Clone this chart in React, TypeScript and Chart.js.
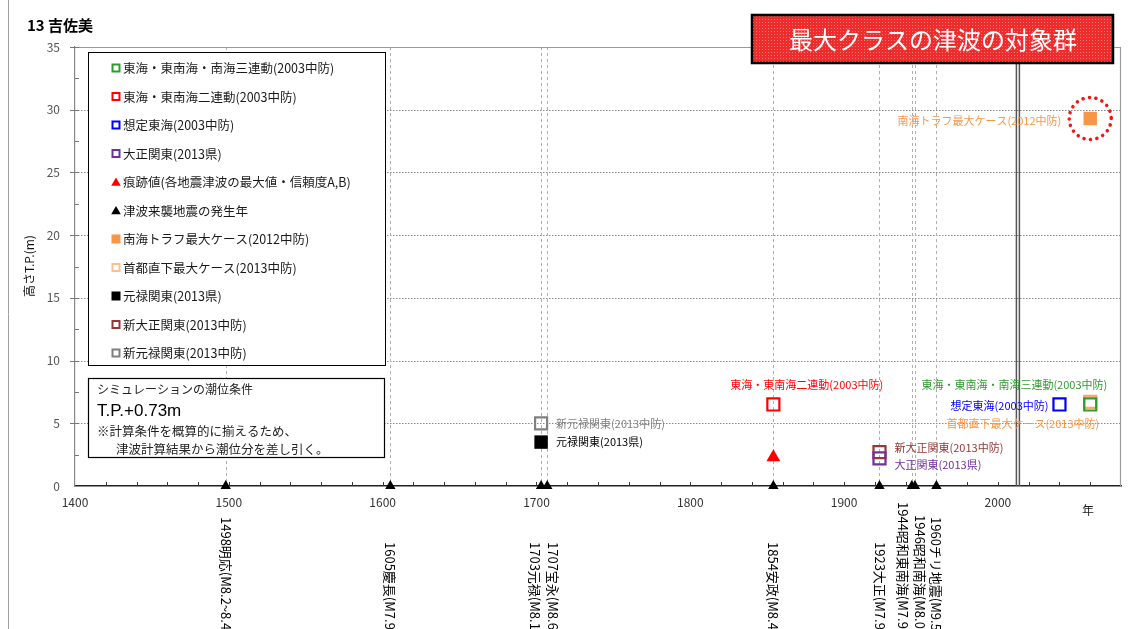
import React, { useEffect, useRef } from 'react';
import { Chart, registerables } from 'chart.js';

Chart.register(...registerables);

const FONT = "'Noto Sans CJK JP', 'Noto Sans', sans-serif";

// ---------- text ----------
const chartTitle = '13 吉佐美';
const yAxisTitle = '高さT.P.(m)';
const xAxisTitle = '年';
const bannerText = '最大クラスの津波の対象群';
const xTickLabels = ['1400', '1500', '1600', '1700', '1800', '1900', '2000'];
const yTickLabels = ['0', '5', '10', '15', '20', '25', '30', '35'];
const tideNoteTitle = 'シミュレーションの潮位条件';
const tideNoteValue = 'T.P.+0.73m';
const tideNoteLine1 = '※計算条件を概算的に揃えるため、';
const tideNoteLine2 = '津波計算結果から潮位分を差し引く。';

// ---------- events (earthquakes causing tsunami) ----------
const eventYears = [1498, 1605, 1703, 1707, 1854, 1923, 1944, 1946, 1960];
const eventNames = [
  '1498明応(M8.2~8.4)',
  '1605慶長(M7.9)',
  '1703元禄(M8.1)',
  '1707宝永(M8.6)',
  '1854安政(M8.4)',
  '1923大正(M7.9)',
  '1944昭和東南海(M7.9)',
  '1946昭和南海(M8.0)',
  '1960チリ地震(M9.5)',
];
const dividerYear = 2012;

// ---------- series ----------
const seriesLabels = [
  '東海・東南海・南海三連動(2003中防)',
  '東海・東南海二連動(2003中防)',
  '想定東海(2003中防)',
  '大正関東(2013県)',
  '痕跡値(各地震津波の最大値・信頼度A,B)',
  '津波来襲地震の発生年',
  '南海トラフ最大ケース(2012中防)',
  '首都直下最大ケース(2013中防)',
  '元禄関東(2013県)',
  '新大正関東(2013中防)',
  '新元禄関東(2013中防)',
];

const sanrendoYears = [2060];
const sanrendoHeights = [6.5];
const nirendoYears = [1854];
const nirendoHeights = [6.5];
const soteiTokaiYears = [2040];
const soteiTokaiHeights = [6.5];
const taishoKantoYears = [1923];
const taishoKantoHeights = [2.2];
const traceYears = [1854];
const traceHeights = [2.3];
const eventHeights = [0, 0, 0, 0, 0, 0, 0, 0, 0];
const nankaiMaxYears = [2060];
const nankaiMaxHeights = [29.3];
const shutoMaxYears = [2060];
const shutoMaxHeights = [6.7];
const genrokuYears = [1703];
const genrokuHeights = [3.5];
const shinTaishoYears = [1923];
const shinTaishoHeights = [2.7];
const shinGenrokuYears = [1703];
const shinGenrokuHeights = [5.0];

const pts = (xs: number[], ys: number[]) => xs.map((x, i) => ({ x, y: ys[i] }));

// ---------- styles ----------
const GREEN = '#2f9a2f';
const RED = '#ff0000';
const BLUE = '#0000ff';
const PURPLE = '#7030a0';
const ORANGE = '#f79646';
const PEACH = '#f8a868';
const DARKRED = '#953735';
const GRAY = '#808080';

type Kind = 'hollow' | 'filled' | 'tri';
const seriesKinds: Kind[] = ['hollow', 'hollow', 'hollow', 'hollow', 'tri', 'tri', 'filled', 'hollow', 'filled', 'hollow', 'hollow'];
const seriesColors = [GREEN, RED, BLUE, PURPLE, RED, '#000000', ORANGE, PEACH, '#000000', DARKRED, GRAY];
const legendColors = [GREEN, RED, BLUE, PURPLE, RED, '#000000', ORANGE, '#fac090', '#000000', DARKRED, GRAY];

// labels next to points: [datasetIndex, dx, dy, align, color]
const pointLabels: [number, number, number, CanvasTextAlign, string][] = [
  [1, -43, -20, 'left', RED],
  [10, 15, 1, 'left', GRAY],
  [8, 15, 0, 'left', '#000000'],
  [9, 15, -4, 'left', DARKRED],
  [3, 15, 6, 'left', PURPLE],
  [0, 17, -20, 'right', GREEN],
  [2, -11, 1, 'right', BLUE],
  [7, 9, 22, 'right', ORANGE],
  [6, -29, 2, 'right', ORANGE],
];

// rotated event label offsets: [dx, top]
const eventLabelLayout: [number, number][] = [
  [0, 517], [0, 542], [-6, 542], [6, 542], [0, 542], [0, 542], [-9, 502], [5, 515], [0, 517],
];

const decorPlugin = {
  id: 'decor',
  beforeDatasetsDraw(chart: any) {
    const { ctx, chartArea: a, scales } = chart;
    const x = scales.x;
    const y = scales.y;
    ctx.save();
    const line = (x1: number, y1: number, x2: number, y2: number) => {
      ctx.beginPath();
      ctx.moveTo(x1, y1);
      ctx.lineTo(x2, y2);
      ctx.stroke();
    };
    // horizontal dotted grid
    ctx.strokeStyle = '#8a8a8a';
    ctx.lineWidth = 1;
    ctx.setLineDash([1.5, 1.5]);
    for (let v = 5; v < 35; v += 5) {
      const py = Math.round(y.getPixelForValue(v)) + 0.5;
      line(a.left, py, a.right, py);
    }
    // event dashed verticals
    ctx.strokeStyle = '#b0b0b0';
    ctx.setLineDash([3, 3]);
    eventYears.forEach((yr) => {
      const px = Math.round(x.getPixelForValue(yr)) + 0.5;
      line(px, a.top, px, a.bottom);
    });
    ctx.setLineDash([]);
    // top / right border
    ctx.strokeStyle = '#9a9a9a';
    ctx.lineWidth = 1.2;
    line(a.left, a.top + 0.5, a.right, a.top + 0.5);
    line(a.right - 0.5, a.top, a.right - 0.5, a.bottom);
    // divider double line
    const dx = x.getPixelForValue(dividerYear);
    ctx.strokeStyle = '#555555';
    ctx.lineWidth = 1.5;
    line(dx, a.top, dx, a.bottom);
    line(dx + 3, a.top, dx + 3, a.bottom);
    // x minor ticks (inside)
    ctx.strokeStyle = '#333333';
    ctx.lineWidth = 1;
    for (let v = 1420; v < 2080; v += 20) {
      const px = Math.round(x.getPixelForValue(v)) + 0.5;
      line(px, a.bottom, px, a.bottom - 4);
    }
    // y ticks
    ctx.strokeStyle = '#777777';
    for (let v = 5; v <= 35; v += 5) {
      const py = Math.round(y.getPixelForValue(v)) + 0.5;
      line(a.left - 5, py, a.left + 4, py);
    }
    for (let v = 2.5; v < 35; v += 5) {
      const py = Math.round(y.getPixelForValue(v)) + 0.5;
      line(a.left, py, a.left + 4, py);
    }
    ctx.restore();
  },
  afterDatasetsDraw(chart: any) {
    const { ctx, scales } = chart;
    const x = scales.x;
    const y = scales.y;
    ctx.save();
    ctx.setLineDash([]);

    // figure left edge
    ctx.strokeStyle = '#a0a0a0';
    ctx.lineWidth = 1;
    ctx.beginPath();
    ctx.moveTo(8.5, 0);
    ctx.lineTo(8.5, 629);
    ctx.stroke();

    // title
    ctx.fillStyle = '#000';
    ctx.font = `bold 15px ${FONT}`;
    ctx.textAlign = 'left';
    ctx.textBaseline = 'middle';
    ctx.fillText(chartTitle, 27, 25);

    // y axis title
    ctx.save();
    ctx.translate(29, 266);
    ctx.rotate(-Math.PI / 2);
    ctx.font = `12px ${FONT}`;
    ctx.textAlign = 'center';
    ctx.fillStyle = '#111';
    ctx.fillText(yAxisTitle, 0, 0);
    ctx.restore();

    // x axis title
    ctx.font = `12px ${FONT}`;
    ctx.textAlign = 'center';
    ctx.fillStyle = '#222';
    ctx.fillText(xAxisTitle, 1088, 510);

    // legend box
    ctx.fillStyle = '#ffffff';
    ctx.fillRect(88, 52, 297, 313);
    ctx.strokeStyle = '#000';
    ctx.lineWidth = 1;
    ctx.strokeRect(88.5, 52.5, 297, 313);
    ctx.font = `12.5px ${FONT}`;
    ctx.textAlign = 'left';
    ctx.textBaseline = 'middle';
    seriesLabels.forEach((lab, i) => {
      const cy = 68 + i * 28.5;
      const cx = 116;
      const col = legendColors[i];
      const kind = seriesKinds[i];
      if (kind === 'hollow') {
        ctx.strokeStyle = col;
        ctx.lineWidth = 2;
        ctx.strokeRect(cx - 3.5, cy - 3.5, 7, 7);
      } else if (kind === 'filled') {
        ctx.fillStyle = col;
        ctx.fillRect(cx - 4.5, cy - 4.5, 9, 9);
      } else {
        ctx.fillStyle = col;
        ctx.beginPath();
        ctx.moveTo(cx, cy - 4.5);
        ctx.lineTo(cx + 4.8, cy + 3.8);
        ctx.lineTo(cx - 4.8, cy + 3.8);
        ctx.closePath();
        ctx.fill();
      }
      ctx.fillStyle = '#1a1a1a';
      ctx.fillText(lab, 123, cy + 0.5);
    });

    // tide note box
    ctx.fillStyle = '#ffffff';
    ctx.fillRect(88, 378, 296, 79);
    ctx.strokeStyle = '#000';
    ctx.lineWidth = 1.2;
    ctx.strokeRect(88.5, 378.5, 296, 79);
    ctx.fillStyle = '#222';
    ctx.font = `12px ${FONT}`;
    ctx.fillText(tideNoteTitle, 97, 389);
    ctx.font = `17px 'Liberation Sans', Arial, sans-serif`;
    ctx.fillStyle = '#000';
    ctx.fillText(tideNoteValue, 97, 411);
    ctx.font = `12.5px ${FONT}`;
    ctx.fillStyle = '#222';
    ctx.fillText(tideNoteLine1, 97, 431);
    ctx.fillText(tideNoteLine2, 116, 449);

    // point labels
    ctx.font = `11px ${FONT}`;
    pointLabels.forEach(([di, ox, oy, align, col]) => {
      const p = chart.data.datasets[di].data[0];
      const px = x.getPixelForValue(p.x);
      const py = y.getPixelForValue(p.y);
      ctx.textAlign = align;
      ctx.fillStyle = col;
      ctx.fillText(seriesLabels[di], px + ox, py + oy);
    });

    // dotted circle around maximum case
    const mp = chart.data.datasets[6].data[0];
    const mx = x.getPixelForValue(mp.x);
    const my = y.getPixelForValue(mp.y);
    ctx.strokeStyle = '#ff1010';
    ctx.lineWidth = 3.5;
    ctx.lineCap = 'round';
    ctx.setLineDash([0.1, 6.4]);
    ctx.beginPath();
    ctx.arc(mx, my, 21, 0, Math.PI * 2);
    ctx.stroke();
    ctx.setLineDash([]);
    ctx.lineCap = 'butt';

    // rotated event labels
    ctx.font = `13px ${FONT}`;
    ctx.fillStyle = '#000';
    ctx.textAlign = 'left';
    ctx.textBaseline = 'middle';
    eventYears.forEach((yr, i) => {
      const [ox, top] = eventLabelLayout[i];
      ctx.save();
      ctx.translate(x.getPixelForValue(yr) + ox, top);
      ctx.rotate(Math.PI / 2);
      ctx.fillText(eventNames[i], 0, 0);
      ctx.restore();
    });

    // banner
    const bx = 752, by = 15, bw = 361, bh = 48;
    ctx.fillStyle = '#ee2c2c';
    ctx.fillRect(bx, by, bw, bh);
    ctx.fillStyle = 'rgba(255,190,190,0.55)';
    for (let xx = bx + 1; xx < bx + bw - 1; xx += 3) {
      for (let yy = by + 1; yy < by + bh - 1; yy += 3) {
        ctx.fillRect(xx, yy, 1, 1);
      }
    }
    ctx.strokeStyle = '#000';
    ctx.lineWidth = 2.5;
    ctx.strokeRect(bx, by, bw, bh);
    ctx.fillStyle = '#ffffff';
    ctx.font = `24px ${FONT}`;
    ctx.textAlign = 'center';
    ctx.textBaseline = 'middle';
    ctx.fillText(bannerText, bx + bw / 2 + 0.5, by + bh / 2 + 1);

    ctx.restore();
  },
};

export default function App() {
  const ref = useRef<HTMLCanvasElement | null>(null);

  useEffect(() => {
    if (!ref.current) return;
    const seriesData = [
      pts(sanrendoYears, sanrendoHeights),
      pts(nirendoYears, nirendoHeights),
      pts(soteiTokaiYears, soteiTokaiHeights),
      pts(taishoKantoYears, taishoKantoHeights),
      pts(traceYears, traceHeights),
      pts(eventYears, eventHeights),
      pts(nankaiMaxYears, nankaiMaxHeights),
      pts(shutoMaxYears, shutoMaxHeights),
      pts(genrokuYears, genrokuHeights),
      pts(shinTaishoYears, shinTaishoHeights),
      pts(shinGenrokuYears, shinGenrokuHeights),
    ];
    const datasets = seriesLabels.map((label, i) => {
      const kind = seriesKinds[i];
      const col = seriesColors[i];
      const isEvent = i === 5;
      return {
        label,
        data: seriesData[i],
        showLine: false,
        clip: false as any,
        pointStyle: kind === 'tri' ? 'triangle' : 'rect',
        pointRadius: kind === 'tri' ? (isEvent ? 6 : 8) : kind === 'filled' ? 9.5 : 8.5,
        pointBorderWidth: kind === 'hollow' ? 2.2 : 0,
        pointBorderColor: col,
        pointBackgroundColor: kind === 'hollow' ? 'rgba(255,255,255,0)' : col,
        borderColor: col,
        backgroundColor: kind === 'hollow' ? 'rgba(255,255,255,0)' : col,
      };
    });

    const chart = new Chart(ref.current, {
      type: 'scatter',
      data: { datasets: datasets as any },
      options: {
        responsive: false,
        animation: false,
        devicePixelRatio: 1,
        layout: { padding: { top: 47, right: 18, left: 0, bottom: 0 } },
        plugins: { legend: { display: false }, tooltip: { enabled: false }, title: { display: false } },
        scales: {
          x: {
            type: 'linear',
            min: 1400,
            max: 2080,
            afterFit: (s: any) => { s.height = 143; },
            grid: { display: false, drawTicks: false },
            border: { display: true, color: '#222222', width: 1.5 },
            ticks: {
              stepSize: 20,
              autoSkip: false,
              maxRotation: 0,
              padding: 9,
              color: '#333333',
              font: { family: FONT, size: 12 },
              callback: (v: any) => {
                const n = Number(v);
                if (n % 100 !== 0) return '';
                const idx = (n - 1400) / 100;
                return xTickLabels[idx] ?? '';
              },
            },
          },
          y: {
            type: 'linear',
            min: 0,
            max: 35,
            afterFit: (s: any) => { s.width = 75; },
            grid: { display: false, drawTicks: false },
            border: { display: true, color: '#888888', width: 1.2 },
            ticks: {
              stepSize: 5,
              padding: 15,
              color: '#555555',
              font: { family: FONT, size: 12 },
              callback: (v: any) => yTickLabels[Math.round(Number(v) / 5)] ?? '',
            },
          },
        },
      },
      plugins: [decorPlugin],
    });
    return () => chart.destroy();
  }, []);

  return (
    <div style={{ position: 'absolute', left: 0, top: 0, width: 1139, height: 629, background: '#ffffff' }}>
      <canvas ref={ref} width={1139} height={629} style={{ width: 1139, height: 629, display: 'block' }} />
    </div>
  );
}
